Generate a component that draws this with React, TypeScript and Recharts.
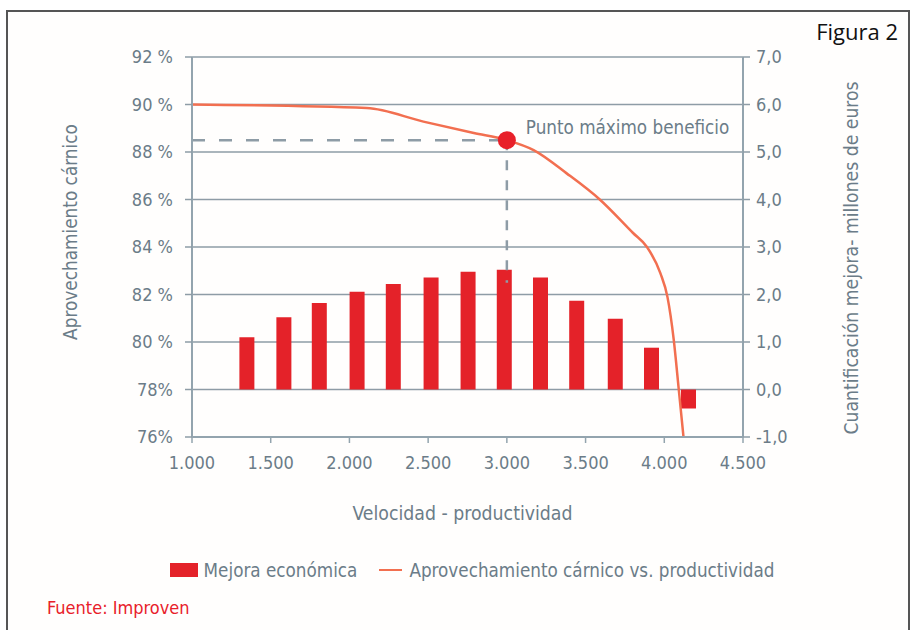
import React from 'react';
import {
  ComposedChart,
  Bar,
  Line,
  XAxis,
  YAxis,
  CartesianGrid,
  Legend,
  ReferenceLine,
  ReferenceDot,
} from 'recharts';

const FONT = "'DejaVu Sans Condensed', 'Liberation Sans Narrow', Roboto, sans-serif";
const TEXT = '#6b7c88';
const GRID = '#8e9ca6';
const AXIS = '#93a4ae';
const BAR_RED = '#e42229';
const LINE_ORANGE = '#f26f50';
const DOT_RED = '#e8202a';

// mejora económica (millones de euros) por velocidad
const barSpeeds = [1350, 1585, 1810, 2050, 2280, 2520, 2755, 2985, 3215, 3445, 3690, 3920, 4155];
const barGains = [1.1, 1.52, 1.82, 2.06, 2.22, 2.36, 2.48, 2.52, 2.36, 1.87, 1.49, 0.88, -0.4];

// aprovechamiento cárnico (%) vs. productividad
const lineSpeeds = [1000, 2110, 2470, 2790, 3000, 3170, 3380, 3590, 3800, 3890, 3975, 4020, 4060, 4092, 4122];
const lineYield = [90.0, 89.85, 89.28, 88.8, 88.5, 88.08, 87.1, 86.0, 84.6, 84.0, 82.9, 81.9, 80.1, 78.0, 76.0];

const xTicks = [1000, 1500, 2000, 2500, 3000, 3500, 4000, 4500];
const xTickLabels = ['1.000', '1.500', '2.000', '2.500', '3.000', '3.500', '4.000', '4.500'];
const leftTicks = [76, 78, 80, 82, 84, 86, 88, 90, 92];
const leftTickLabels = ['76%', '78%', '80 %', '82 %', '84 %', '86 %', '88 %', '90 %', '92 %'];
const rightTicks = [-1, 0, 1, 2, 3, 4, 5, 6, 7];
const rightTickLabels = ['-1,0', '0,0', '1,0', '2,0', '3,0', '4,0', '5,0', '6,0', '7,0'];

const maxSpeed = 3000;
const maxYield = 88.5;
const dashBottomYield = 82.5;

const barRows = barSpeeds.map((x, i) => ({ x, mejora: barGains[i] }));
const lineRows = lineSpeeds.map((x, i) => ({ x, aprov: lineYield[i] }));

const LEGEND_H = 24;
const tickStyle = { fill: TEXT, fontSize: 18, fontFamily: FONT };

function LegendContent({ payload }: any) {
  const items = [...(payload || [])].sort(
    (a: any, b: any) => (a.type === 'line' ? 1 : 0) - (b.type === 'line' ? 1 : 0)
  );
  return (
    <div
      style={{
        display: 'flex',
        justifyContent: 'center',
        alignItems: 'center',
        height: LEGEND_H,
        fontFamily: FONT,
        fontSize: 18.7,
        color: TEXT,
        paddingLeft: 52,
      }}
    >
      {items.map((p: any) => (
        <div key={p.value} style={{ display: 'flex', alignItems: 'center', marginRight: 22 }}>
          {p.type === 'line' ? (
            <span style={{ width: 23, height: 2, background: p.color, marginRight: 7 }} />
          ) : (
            <span style={{ width: 28, height: 14, background: p.color, marginRight: 6 }} />
          )}
          <span>{p.value}</span>
        </div>
      ))}
    </div>
  );
}

export default function App() {
  return (
    <div
      style={{
        position: 'absolute',
        left: 0,
        top: 0,
        width: 914,
        height: 630,
        overflow: 'hidden',
        background: '#fff',
      }}
    >
      <div
        style={{
          position: 'absolute',
          left: 6,
          top: 10,
          width: 900,
          height: 640,
          border: '2px solid #555',
          background: '#fffefd',
        }}
      />
      <div
        style={{
          position: 'absolute',
          right: 16,
          top: 16,
          fontFamily: "'Open Sans', sans-serif",
          fontSize: 22,
          color: '#111',
        }}
      >
        Figura 2
      </div>
      <div
        style={{
          position: 'absolute',
          left: 47,
          top: 597,
          fontFamily: FONT,
          fontSize: 18,
          color: '#e8202a',
        }}
      >
        Fuente: Improven
      </div>
      <div style={{ position: 'absolute', left: 0, top: 0 }}>
        <ComposedChart
          width={914}
          height={630}
          data={barRows}
          margin={{ top: 57, right: 41, bottom: 133 - LEGEND_H, left: 72 }}
        >
          <CartesianGrid yAxisId="left" vertical={false} stroke={GRID} strokeWidth={1.5} />
          <XAxis
            dataKey="x"
            type="number"
            domain={[1000, 4500]}
            ticks={xTicks}
            interval={0}
            tickFormatter={(v: number) => xTickLabels[xTicks.indexOf(v)] ?? String(v)}
            height={60}
            tick={tickStyle}
            tickSize={6}
            tickMargin={13}
            axisLine={{ stroke: AXIS, strokeWidth: 2 }}
            tickLine={{ stroke: AXIS, strokeWidth: 1.5 }}
            label={({ viewBox }: any) => (
              <text
                x={viewBox.x + viewBox.width / 2 - 5}
                y={viewBox.y + 76}
                textAnchor="middle"
                dominantBaseline="central"
                fill={TEXT}
                fontSize={19.3}
                fontFamily={FONT}
              >
                Velocidad - productividad
              </text>
            )}
          />
          <XAxis xAxisId="bars" dataKey="x" type="number" domain={[1000, 4500]} hide />
          <YAxis
            yAxisId="left"
            domain={[76, 92]}
            ticks={leftTicks}
            interval={0}
            tickFormatter={(v: number) => leftTickLabels[leftTicks.indexOf(v)] ?? String(v)}
            width={120}
            tick={tickStyle}
            tickSize={7}
            tickMargin={12}
            axisLine={{ stroke: AXIS, strokeWidth: 2 }}
            tickLine={{ stroke: GRID, strokeWidth: 1.5 }}
            label={({ viewBox }: any) => {
              const x = viewBox.x - 2;
              const y = viewBox.y + viewBox.height / 2 - 15;
              return (
                <text
                  x={x}
                  y={y}
                  transform={`rotate(-90, ${x}, ${y})`}
                  textAnchor="middle"
                  dominantBaseline="central"
                  fill={TEXT}
                  fontSize={18.8}
                  fontFamily={FONT}
                >
                  Aprovechamiento cárnico
                </text>
              );
            }}
          />
          <YAxis
            yAxisId="right"
            orientation="right"
            domain={[-1, 7]}
            ticks={rightTicks}
            interval={0}
            tickFormatter={(v: number) => rightTickLabels[rightTicks.indexOf(v)] ?? String(v)}
            width={130}
            tick={tickStyle}
            tickSize={7}
            tickMargin={6}
            axisLine={{ stroke: AXIS, strokeWidth: 2 }}
            tickLine={{ stroke: GRID, strokeWidth: 1.5 }}
            label={({ viewBox }: any) => {
              const x = viewBox.x + viewBox.width - 22;
              const y = viewBox.y + viewBox.height / 2 + 11;
              return (
                <text
                  x={x}
                  y={y}
                  transform={`rotate(-90, ${x}, ${y})`}
                  textAnchor="middle"
                  dominantBaseline="central"
                  fill={TEXT}
                  fontSize={19.2}
                  fontFamily={FONT}
                >
                  Cuantificación mejora- millones de euros
                </text>
              );
            }}
          />
          <Legend
            content={<LegendContent />}
            wrapperStyle={{ top: 558, left: 0, width: 914 }}
          />
          <Bar
            xAxisId="bars"
            yAxisId="right"
            dataKey="mejora"
            name="Mejora económica"
            fill={BAR_RED}
            barSize={15}
            isAnimationActive={false}
          />
          <ReferenceLine
            yAxisId="left"
            segment={[
              { x: 1000, y: maxYield },
              { x: maxSpeed, y: maxYield },
            ]}
            stroke={GRID}
            strokeWidth={2.5}
            strokeDasharray="13 14"
          />
          <ReferenceLine
            yAxisId="left"
            segment={[
              { x: maxSpeed, y: maxYield },
              { x: maxSpeed, y: dashBottomYield },
            ]}
            stroke={GRID}
            strokeWidth={2.5}
            strokeDasharray="10 10"
          />
          <Line
            yAxisId="left"
            data={lineRows}
            dataKey="aprov"
            name="Aprovechamiento cárnico vs. productividad"
            type="monotone"
            stroke={LINE_ORANGE}
            strokeWidth={2.5}
            dot={false}
            activeDot={false}
            isAnimationActive={false}
          />
          <ReferenceDot
            yAxisId="left"
            x={maxSpeed}
            y={maxYield}
            r={9}
            fill={DOT_RED}
            stroke="none"
            label={({ viewBox }: any) => (
              <text
                x={viewBox.x + viewBox.width + 10}
                y={viewBox.y - 4}
                dominantBaseline="central"
                fill={TEXT}
                fontSize={18.7}
                fontFamily={FONT}
              >
                Punto máximo beneficio
              </text>
            )}
          />
        </ComposedChart>
      </div>
    </div>
  );
}
